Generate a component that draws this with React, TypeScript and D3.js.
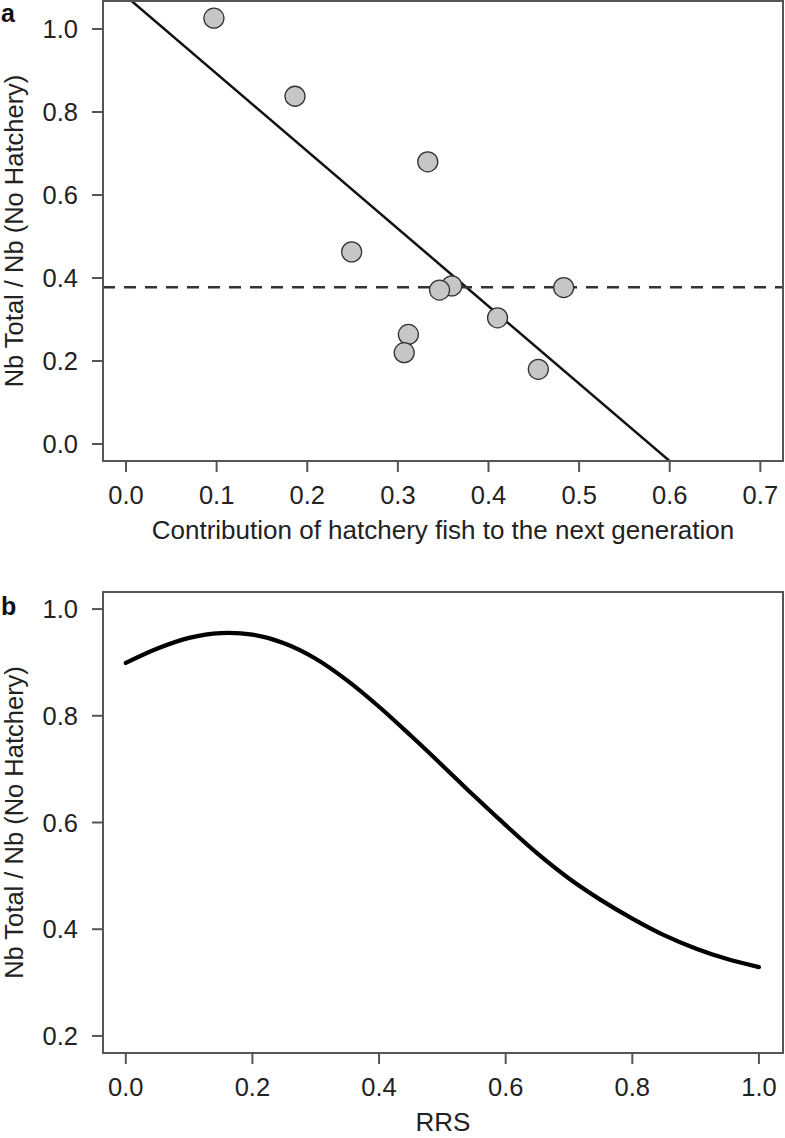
import React from "react";
import * as d3 from "d3";

// Panel a data: contribution of hatchery fish vs Nb ratio
const contribX = [0.097, 0.1865, 0.333, 0.249, 0.3595, 0.346, 0.41, 0.483, 0.3116, 0.307, 0.455];
const ratioY = [1.026, 0.838, 0.68, 0.463, 0.381, 0.371, 0.304, 0.377, 0.264, 0.22, 0.18];
const regIntercept = 1.079;
const regSlope = -1.867;
const meanRatio = 0.3776;
const xTicksA = [0, 0.1, 0.2, 0.3, 0.4, 0.5, 0.6, 0.7];
const yTicksA = [0, 0.2, 0.4, 0.6, 0.8, 1.0];

// Panel b data: RRS curve
const rrsX = [0, 0.05, 0.1, 0.15, 0.2, 0.25, 0.3, 0.35, 0.4, 0.45, 0.5, 0.55, 0.6, 0.65, 0.7, 0.75, 0.8, 0.85, 0.9, 0.95, 1.0];
const rrsY = [0.899, 0.926, 0.946, 0.955, 0.952, 0.936, 0.907, 0.866, 0.817, 0.763, 0.707, 0.65, 0.595, 0.542, 0.495, 0.455, 0.42, 0.389, 0.364, 0.344, 0.329];
const xTicksB = [0, 0.2, 0.4, 0.6, 0.8, 1.0];
const yTicksB = [0.2, 0.4, 0.6, 0.8, 1.0];

const FONT = "'Liberation Sans', Arial, Helvetica, sans-serif";
const AX = "#555";
const FS = 25.5;

function Panel({ x, y, xTicks, yTicks, xLabel, yLabel, letter, letterY, children }: any) {
  const [x0, x1] = x.range();
  const [y0, y1] = y.range(); // y0 bottom, y1 top
  return (
    <g>
      {children}
      <rect x={x0} y={y1} width={x1 - x0} height={y0 - y1} fill="none" stroke={AX} strokeWidth={2} />
      {xTicks.map((t: number) => (
        <g key={"x" + t}>
          <line x1={x(t)} x2={x(t)} y1={y0} y2={y0 + 11} stroke={AX} strokeWidth={2} />
          <text x={x(t)} y={y0 + 43} textAnchor="middle" fontSize={FS} fill="#222" fontFamily={FONT}>
            {t.toFixed(1)}
          </text>
        </g>
      ))}
      {yTicks.map((t: number) => (
        <g key={"y" + t}>
          <line x1={x0 - 11} x2={x0} y1={y(t)} y2={y(t)} stroke={AX} strokeWidth={2} />
          <text x={x0 - 25} y={y(t) + 9} textAnchor="end" fontSize={FS} fill="#222" fontFamily={FONT}>
            {t.toFixed(1)}
          </text>
        </g>
      ))}
      <text x={(x0 + x1) / 2} y={y0 + 78} textAnchor="middle" fontSize={FS + 0.5} fill="#222" fontFamily={FONT}>
        {xLabel}
      </text>
      <text
        transform={`translate(${23},${(y0 + y1) / 2}) rotate(-90)`}
        textAnchor="middle"
        fontSize={FS}
        fill="#222"
        fontFamily={FONT}
      >
        {yLabel}
      </text>
      <text x={1} y={letterY} fontSize={25} fontWeight="bold" fill="#111" fontFamily={FONT}>
        {letter}
      </text>
    </g>
  );
}

export default function App() {
  const W = 785;
  const H = 1138;

  const xA = d3.scaleLinear().domain([-0.0254, 0.725]).range([103, 783]);
  const yA = d3.scaleLinear().domain([-0.041, 1.0675]).range([461, 1]);

  const xB = d3.scaleLinear().domain([-0.036, 1.038]).range([103, 783]);
  const yB = d3.scaleLinear().domain([0.168, 1.032]).range([1053, 592]);

  const [dxa0, dxa1] = xA.domain();
  const regLine = d3.line<number>()
    .x((v) => xA(v))
    .y((v) => yA(regIntercept + regSlope * v));

  const curve = d3
    .line<number>()
    .x((_, i) => xB(rrsX[i]))
    .y((v) => yB(v))
    .curve(d3.curveCatmullRom.alpha(0.5));

  return (
    <svg width={W} height={H} style={{ position: "absolute", left: 0, top: 0, background: "#fff" }}>
      <defs>
        <clipPath id="clipA">
          <rect x={103} y={1} width={680} height={460} />
        </clipPath>
      </defs>
      <Panel
        x={xA}
        y={yA}
        xTicks={xTicksA}
        yTicks={yTicksA}
        xLabel="Contribution of hatchery fish to the next generation"
        yLabel="Nb Total / Nb (No Hatchery)"
        letter="a"
        letterY={22}
      >
        <g clipPath="url(#clipA)">
          <path d={regLine([dxa0, dxa1]) || ""} fill="none" stroke="#111" strokeWidth={2.5} />
          <line
            x1={xA(dxa0)}
            x2={xA(dxa1)}
            y1={yA(meanRatio)}
            y2={yA(meanRatio)}
            stroke="#333"
            strokeWidth={2.6}
            strokeDasharray="12,9"
          />
          {contribX.map((cx, i) => (
            <circle key={i} cx={xA(cx)} cy={yA(ratioY[i])} r={10} fill="#c6c6c6" stroke="#333" strokeWidth={1.3} />
          ))}
        </g>
      </Panel>
      <Panel
        x={xB}
        y={yB}
        xTicks={xTicksB}
        yTicks={yTicksB}
        xLabel="RRS"
        yLabel="Nb Total / Nb (No Hatchery)"
        letter="b"
        letterY={615}
      >
        <path d={curve(rrsY) || ""} fill="none" stroke="#000" strokeWidth={4.2} strokeLinecap="round" />
      </Panel>
    </svg>
  );
}
